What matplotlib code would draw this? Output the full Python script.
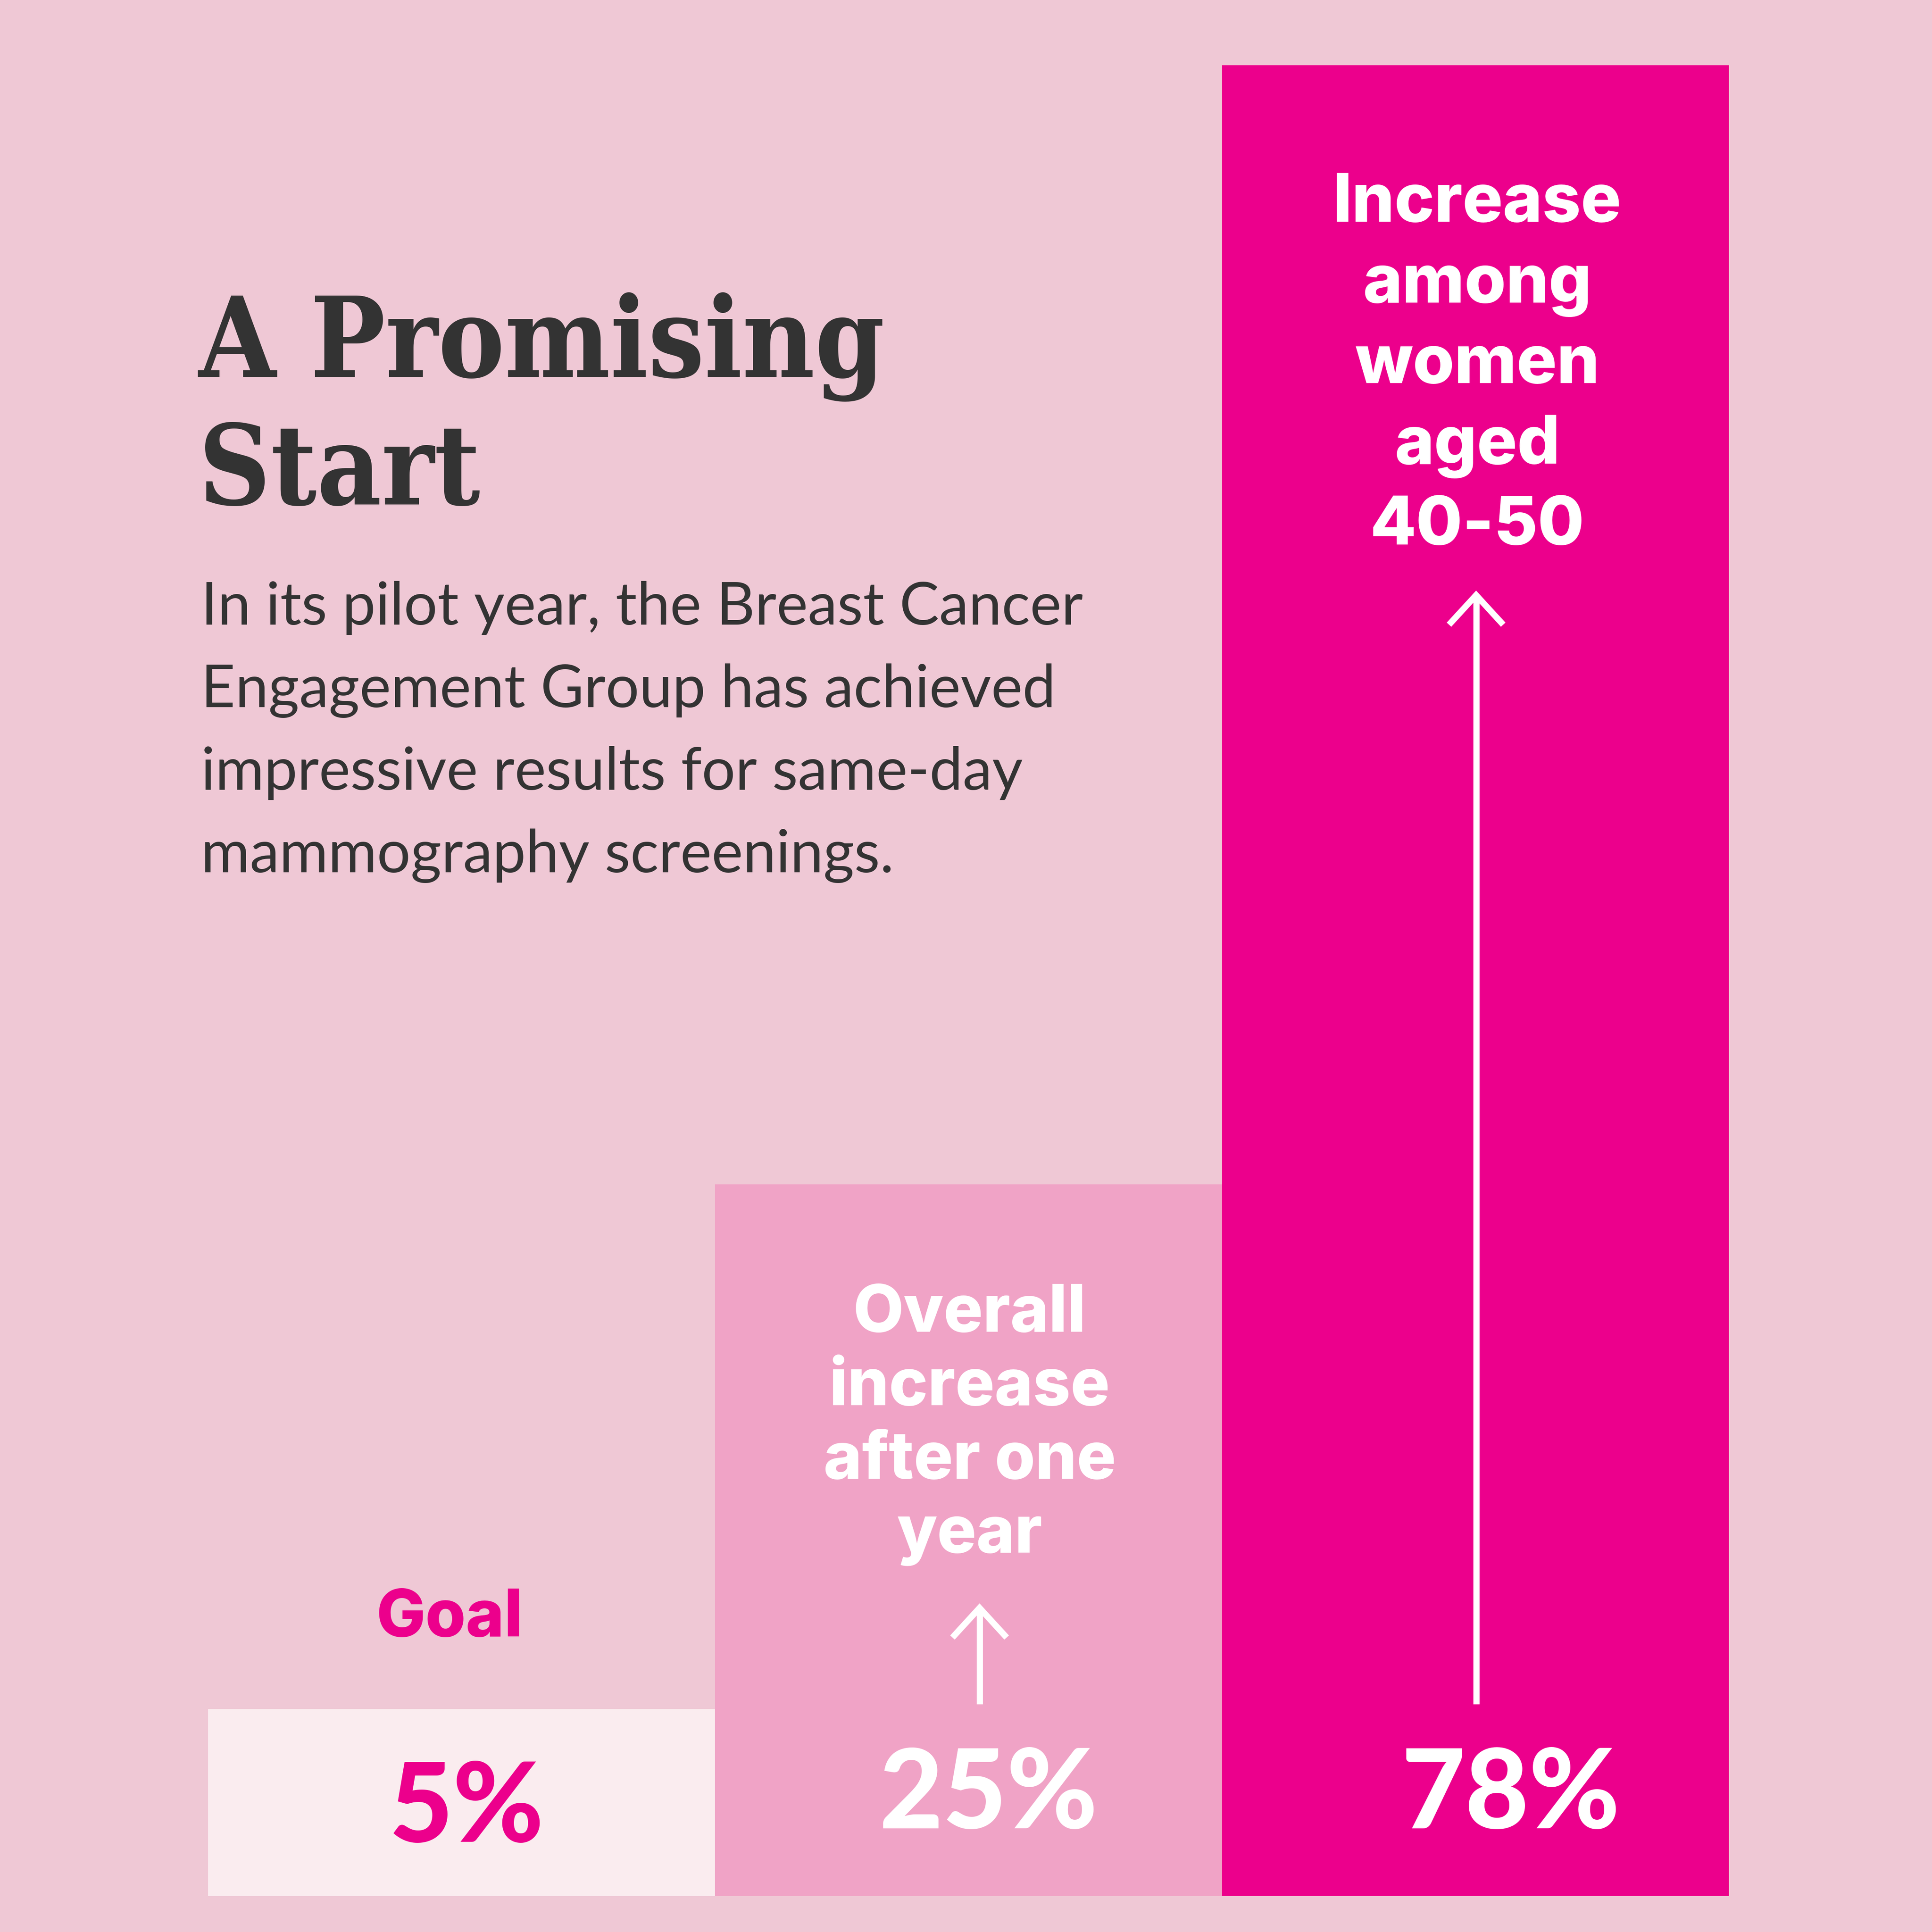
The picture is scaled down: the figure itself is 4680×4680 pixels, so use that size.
import numpy as np
import matplotlib.pyplot as plt
from matplotlib.transforms import blended_transform_factory

# data
categories = ['Goal', 'Overall\nincrease\nafter one\nyear', 'Increase\namong\nwomen\naged\n40-50']
values = [5, 25, 78]
bar_colors = ['#faecef', '#f0a3c6', '#ec008c']
value_colors = ['#ec008c', 'white', 'white']

title = 'A Promising\nStart'
body = ['In its pilot year, the Breast Cancer',
        'Engagement Group has achieved',
        'impressive results for same-day',
        'mammography screenings.']

BG = '#efc8d5'
DARK = '#333333'
P = 0.83  # bar heights are not linear in the picture


def fwd(v):
    return np.power(np.maximum(v, 0), P)


def inv(v):
    return np.power(np.maximum(v, 0), 1 / P)


fig = plt.figure(figsize=(15.6, 15.6), dpi=300, facecolor=BG)

# bars
ax = fig.add_axes([169 / 1568, 29 / 1568, 1234 / 1568, 1486 / 1568])
ax.set_yscale('function', functions=(fwd, inv))
ax.bar(range(len(values)), values, width=1.0, color=bar_colors, linewidth=0)
ax.set_xlim(-0.5, 2.5)
ax.set_ylim(0, max(values))
ax.axis('off')

# overlay in pixel units of a 1568 canvas
ov = fig.add_axes([0, 0, 1, 1], zorder=5)
ov.set_xlim(0, 1568)
ov.set_ylim(1568, 0)
ov.axis('off')
ov.patch.set_alpha(0)

tkw = dict(fontsize=64.5, family='DejaVu Serif', weight='bold', stretch='condensed',
           color=DARK, va='baseline', ha='left')
for k, line in enumerate(title.split('\n')):
    ov.text(161, 306 + k * 103.5, line, **tkw)

for i, line in enumerate(body):
    ov.text(163, 507 + i * 67, line, fontsize=34.5, family='Lato', color=DARK,
            va='baseline', ha='left')

bt = blended_transform_factory(ax.transData, ov.transData)
heavy = dict(family='Lato', weight='black')
words = dict(family=['Inter', 'Lato'], weight='heavy')

# category labels
ov.text(365, 1328, categories[0], fontsize=38, color='#ec008c', ha='center',
        va='baseline', **words)
for j, line in enumerate(categories[1].split('\n')):
    ov.text(787, 1081 + j * 59.6, line, fontsize=38, color='white', ha='center',
            va='baseline', **words)
for j, line in enumerate(categories[2].split('\n')):
    ov.text(1199, 180 + j * 65.5, line, fontsize=39, color='white', ha='center',
            va='baseline', **words)

# value labels
val_y = [1495, 1484, 1484]
val_dx = [0.01, 0.04, 0.07]
for i, v in enumerate(values):
    ov.text(i + val_dx[i], val_y[i], f'{v}%', fontsize=64, color=value_colors[i],
            ha='center', va='baseline', transform=bt, **heavy)

# arrows
for x, top in [(795, 1305), (1198, 483)]:
    ov.plot([x, x], [1383, top + 2], color='white', lw=3.6, solid_capstyle='butt')
    ov.plot([x - 22, x, x + 22], [top + 24, top, top + 24], color='white', lw=3.6,
            solid_joinstyle='miter', solid_capstyle='butt')

fig.savefig('out.png', dpi=300, facecolor=BG)
